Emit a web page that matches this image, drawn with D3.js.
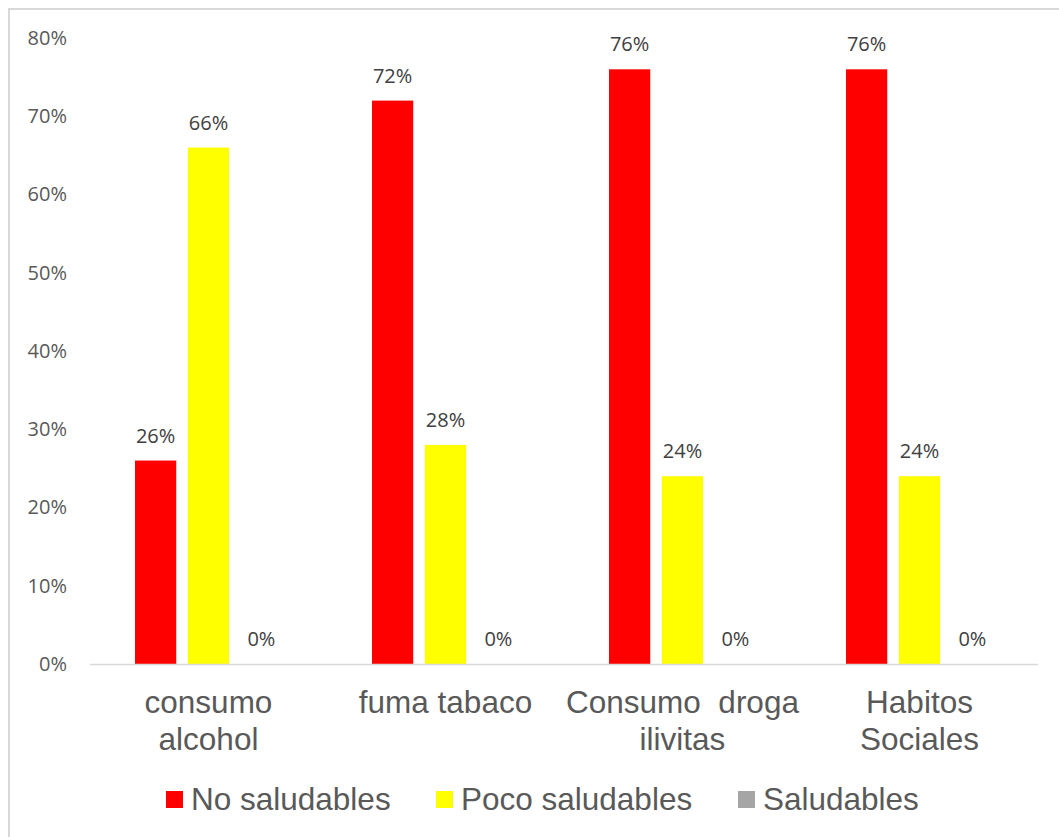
<!DOCTYPE html>
<html>
<head>
<meta charset="utf-8">
<script src="https://cdn.jsdelivr.net/npm/d3@7"></script>
<style>
  html, body { margin: 0; padding: 0; background: #fff; }
  svg { display: block; }
</style>
</head>
<body>
<svg id="chart" width="1059" height="837"></svg>
<script>
// Category labels (each entry is the list of lines for that tick)
const categories = [
  ["consumo", "alcohol"],
  ["fuma tabaco"],
  ["Consumo  droga", "ilivitas"],
  ["Habitos", "Sociales"]
];
const seriesNames = ["No saludables", "Poco saludables", "Saludables"];
const seriesColors = ["#ff0000", "#ffff00", "#a5a5a5"];
const noSaludables = [0.26, 0.72, 0.76, 0.76];
const pocoSaludables = [0.66, 0.28, 0.24, 0.24];
const saludables = [0, 0, 0, 0];
const yTicks = [0, 0.1, 0.2, 0.3, 0.4, 0.5, 0.6, 0.7, 0.8];

const seriesValues = [noSaludables, pocoSaludables, saludables];

const svg = d3.select("#chart");

// Chart area frame (top and left edges visible)
svg.append("path")
  .attr("d", "M9,1100 L9,9 L1100,9")
  .attr("fill", "none")
  .attr("stroke", "#d9d9d9")
  .attr("stroke-width", 2);

const plot = { left: 90, right: 1038, top: 38, bottom: 664 };

const x0 = d3.scaleBand()
  .domain(d3.range(categories.length))
  .range([plot.left, plot.right])
  .paddingInner(0)
  .paddingOuter(0);

const x1 = d3.scaleBand()
  .domain(d3.range(seriesNames.length))
  .range([45, x0.bandwidth() - 45])
  .paddingInner(0.22)
  .paddingOuter(0);

const y = d3.scaleLinear()
  .domain([0, 0.8])
  .range([plot.bottom, plot.top]);

// Y axis labels
const yAxis = d3.axisLeft(y)
  .tickValues(yTicks)
  .tickFormat(d3.format(".0%"))
  .tickSize(0)
  .tickPadding(0);

const yg = svg.append("g")
  .attr("transform", `translate(67,0)`)
  .call(yAxis);
yg.select(".domain").remove();
yg.selectAll("text")
  .attr("fill", "#595959")
  .attr("font-family", "'Open Sans', sans-serif")
  .attr("font-size", 20);

// Bars
const groups = svg.append("g")
  .selectAll("g")
  .data(categories.map((c, i) => i))
  .join("g")
  .attr("transform", i => `translate(${x0(i)},0)`);

groups.selectAll("rect")
  .data(i => seriesValues.map((vals, s) => ({ s, v: vals[i] })))
  .join("rect")
  .attr("x", d => x1(d.s))
  .attr("width", x1.bandwidth())
  .attr("y", d => y(d.v))
  .attr("height", d => y(0) - y(d.v))
  .attr("fill", d => seriesColors[d.s]);

// Data labels
groups.selectAll("text.val")
  .data(i => seriesValues.map((vals, s) => ({ s, v: vals[i] })))
  .join("text")
  .attr("class", "val")
  .attr("x", d => x1(d.s) + x1.bandwidth() / 2)
  .attr("y", d => y(d.v) - 18)
  .attr("text-anchor", "middle")
  .attr("fill", "#404040")
  .attr("font-family", "'Open Sans', sans-serif")
  .attr("font-size", 20)
  .text(d => d3.format(".0%")(d.v));

// X axis baseline
svg.append("line")
  .attr("x1", plot.left).attr("x2", plot.right)
  .attr("y1", y(0) + 0.5).attr("y2", y(0) + 0.5)
  .attr("stroke", "#d9d9d9")
  .attr("stroke-width", 1.5);

// Category labels
const catG = svg.append("g");
categories.forEach((lines, i) => {
  const t = catG.append("text")
    .attr("x", x0(i) + x0.bandwidth() / 2)
    .attr("y", 713)
    .attr("text-anchor", "middle")
    .attr("fill", "#595959")
    .attr("font-family", "'Liberation Sans', Arial, sans-serif")
    .attr("font-size", 31.5)
    .style("white-space", "pre");
  lines.forEach((ln, k) => {
    t.append("tspan")
      .attr("x", x0(i) + x0.bandwidth() / 2)
      .attr("dy", k === 0 ? 0 : 37)
      .text(ln);
  });
});

// Legend
const legendX = [166, 436, 738];
const legend = svg.append("g");
seriesNames.forEach((name, s) => {
  legend.append("rect")
    .attr("x", legendX[s]).attr("y", 791)
    .attr("width", 17).attr("height", 17)
    .attr("fill", seriesColors[s]);
  legend.append("text")
    .attr("x", legendX[s] + 25).attr("y", 810)
    .attr("fill", "#595959")
    .attr("font-family", "'Liberation Sans', Arial, sans-serif")
    .attr("font-size", 31.5)
    .text(name);
});
</script>
</body>
</html>
